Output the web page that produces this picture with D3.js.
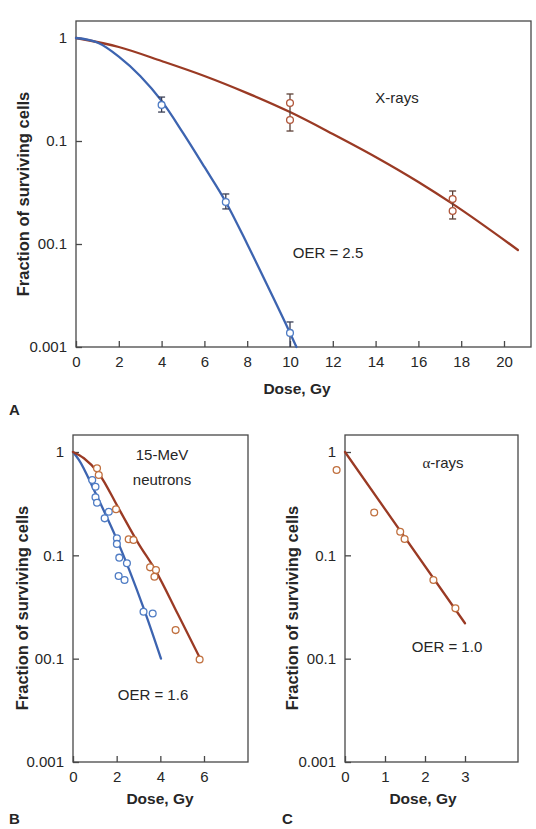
<!DOCTYPE html>
<html>
<head>
<meta charset="utf-8">
<script src="https://cdn.jsdelivr.net/npm/d3@7"></script>
<style>
    body { margin: 0; background: #fff; }
    svg text { font-family: "Liberation Sans", Arial, Helvetica, sans-serif; fill: #262626; }
</style>
</head>
<body>
<div id="chart"></div>
<script>
    // ---- values ----
    const fractionTicks = [1, 0.1, 0.01, 0.001];
    const fractionLabels = ["1", "0.1", "00.1", "0.001"];   // printed this way in the source
    const doseTicksA = [0, 2, 4, 6, 8, 10, 12, 14, 16, 18, 20];
    const doseTicksB = [0, 2, 4, 6];
    const doseTicksC = [0, 1, 2, 3];

    // A: X-rays, aerated (blue) and hypoxic (red) fitted curves [dose, fraction]
    const xrayAeratedCurve = [[0, 1], [1, 0.904], [2, 0.66], [3, 0.428], [4, 0.245], [5, 0.12],
        [6, 0.056], [7, 0.0256], [8, 0.01], [9, 0.00374], [10, 0.00137], [10.3, 0.001]];
    const xrayHypoxicCurve = [[0, 1], [2, 0.818], [4, 0.598], [6, 0.428], [8, 0.292], [10, 0.191],
        [12, 0.117], [14, 0.07], [16, 0.04], [17.6, 0.0245], [20.65, 0.00875]];
    // measured points [dose, fraction]; error bars [dose, low, high]
    const xrayAeratedPoints = [[4, 0.224], [7, 0.0256], [10, 0.00137]];
    const xrayAeratedErrors = [[4, 0.191, 0.267], [7, 0.0219, 0.0306], [10, 0.001, 0.00175]];
    const xrayHypoxicPoints = [[10, 0.234], [10, 0.16], [17.6, 0.0273], [17.6, 0.0209]];
    const xrayHypoxicErrors = [[10, 0.125, 0.286], [17.6, 0.0175, 0.0327]];

    // B: 15-MeV neutrons
    const neutronAeratedCurve = [[0, 1], [0.27, 0.84], [1.03, 0.4], [2.01, 0.142], [3.23, 0.031], [4.03, 0.01]];
    const neutronHypoxicCurve = [[0, 1], [0.5, 0.87], [1.18, 0.62], [2.09, 0.285], [3, 0.13],
        [3.77, 0.072], [4.8, 0.027], [5.85, 0.0098]];
    const neutronAeratedPoints = [[0.88, 0.536], [1.03, 0.461], [1.03, 0.364], [1.1, 0.323], [1.64, 0.264],
        [1.45, 0.228], [2.01, 0.146], [2.01, 0.129], [2.12, 0.095], [2.47, 0.0837], [2.09, 0.063],
        [2.36, 0.0577], [3.23, 0.0284], [3.65, 0.0274]];
    const neutronHypoxicPoints = [[1.1, 0.695], [1.18, 0.599], [1.97, 0.279], [2.55, 0.143], [2.77, 0.141],
        [3.53, 0.0765], [3.8, 0.072], [3.73, 0.062], [4.7, 0.0189], [5.8, 0.0098]];

    // C: alpha-rays
    const alphaCurve = [[0, 1], [3, 0.022]];
    const alphaPoints = [[-0.21, 0.67], [0.73, 0.26], [1.38, 0.169], [1.49, 0.144], [2.21, 0.0577], [2.76, 0.0307]];

    const red = "#9a3a24", blue = "#3d64b0";
    const redDot = "#c0703f", blueDot = "#4f7cc4";

    const svg = d3.select("#chart")
        .append("svg")
        .attr("width", 536)
        .attr("height", 829);

    function drawPanel(p) {
        const x = d3.scaleLinear().domain(p.xDomain).range(p.xRange);
        const y = d3.scaleLog().domain([0.001, 1]).range(p.yRange);
        const g = svg.append("g");

        // frame
        g.append("rect")
            .attr("x", p.xRange[0]).attr("y", p.top)
            .attr("width", p.right - p.xRange[0])
            .attr("height", p.yRange[0] - p.top)
            .attr("fill", "none").attr("stroke", "#484848").attr("stroke-width", 1.3);

        // axes, ticks pointing inward
        const ya = g.append("g")
            .attr("transform", `translate(${p.xRange[0]},0)`)
            .call(d3.axisLeft(y).tickValues(fractionTicks)
                .tickFormat(d => fractionLabels[fractionTicks.indexOf(d)])
                .tickSizeInner(-6).tickSizeOuter(0).tickPadding(9));
        const xa = g.append("g")
            .attr("transform", `translate(0,${p.yRange[0]})`)
            .call(d3.axisBottom(x).tickValues(p.ticks).tickFormat(d3.format("d"))
                .tickSizeInner(-6).tickSizeOuter(0).tickPadding(9));
        [ya, xa].forEach(a => {
            a.select(".domain").remove();
            a.attr("font-size", null).attr("font-family", null).style("color", "#484848");
            a.selectAll("text").attr("font-size", 15);
            a.selectAll("line").attr("stroke-width", 1.3);
        });

        // axis titles
        g.append("text")
            .attr("transform", `translate(${p.yTitle[0]},${p.yTitle[1]}) rotate(-90)`)
            .attr("text-anchor", "middle").attr("dy", "0.35em")
            .attr("font-size", 16.5).attr("font-weight", "bold")
            .text("Fraction of surviving cells");
        g.append("text")
            .attr("x", p.xTitle[0]).attr("y", p.xTitle[1])
            .attr("text-anchor", "middle")
            .attr("font-size", 15.5).attr("font-weight", "bold")
            .text("Dose, Gy");

        const line = d3.line()
            .x(d => x(d[0]))
            .y(d => y(d[1]))
            .curve(d3.curveMonotoneX);

        p.series.forEach(s => {
            g.append("path")
                .datum(s.curve)
                .attr("d", line)
                .attr("fill", "none")
                .attr("stroke", s.color)
                .attr("stroke-width", 2.3)
                .attr("stroke-linecap", "round");

            (s.errors || []).forEach(e => {
                const eg = g.append("g").attr("stroke", s.errColor).attr("stroke-width", 1.3);
                eg.append("line").attr("x1", x(e[0])).attr("x2", x(e[0])).attr("y1", y(e[1])).attr("y2", y(e[2]));
                [e[1], e[2]].forEach(v => {
                    if (v <= 0.001) return;
                    eg.append("line").attr("x1", x(e[0]) - 3.5).attr("x2", x(e[0]) + 3.5)
                        .attr("y1", y(v)).attr("y2", y(v));
                });
            });

            g.selectAll(null)
                .data(s.points)
                .enter()
                .append("circle")
                .attr("cx", d => x(d[0]))
                .attr("cy", d => y(d[1]))
                .attr("r", 3.4)
                .attr("fill", "#fff")
                .attr("stroke", s.dotColor)
                .attr("stroke-width", 1.3);
        });

        p.notes.forEach(n => {
            const t = g.append("text")
                .attr("x", n[0]).attr("y", n[1])
                .attr("text-anchor", "middle")
                .attr("font-size", 15);
            if (n[2].startsWith("α")) {
                t.append("tspan").style("font-family", "'Liberation Serif', 'DejaVu Serif', serif").text("α");
                t.append("tspan").text(n[2].slice(1));
            } else {
                t.text(n[2]);
            }
        });

        svg.append("text")
            .attr("x", p.letter[0]).attr("y", p.letter[1])
            .attr("font-size", 15).attr("font-weight", "bold")
            .text(p.letter[2]);
    }

    drawPanel({
        xDomain: [0, 20], xRange: [76, 504], yRange: [347, 38], top: 21, right: 531,
        ticks: doseTicksA, yTitle: [23, 194], xTitle: [297, 394],
        series: [
            { curve: xrayHypoxicCurve, points: xrayHypoxicPoints, errors: xrayHypoxicErrors,
              color: red, dotColor: "#b0563a", errColor: "#5c4036" },
            { curve: xrayAeratedCurve, points: xrayAeratedPoints, errors: xrayAeratedErrors,
              color: blue, dotColor: blueDot, errColor: "#3a3f55" }
        ],
        notes: [[397, 103, "X-rays"], [328, 258, "OER = 2.5"]],
        letter: [9, 415, "A"]
    });

    drawPanel({
        xDomain: [0, 6], xRange: [73, 204], yRange: [762, 452], top: 435, right: 248,
        ticks: doseTicksB, yTitle: [22, 608], xTitle: [160, 804],
        series: [
            { curve: neutronAeratedCurve, points: neutronAeratedPoints, color: blue, dotColor: blueDot },
            { curve: neutronHypoxicCurve, points: neutronHypoxicPoints, color: red, dotColor: redDot }
        ],
        notes: [[162, 460, "15-MeV"], [162, 485, "neutrons"], [153, 700, "OER = 1.6"]],
        letter: [9, 824, "B"]
    });

    drawPanel({
        xDomain: [0, 3], xRange: [345, 465], yRange: [762, 452], top: 435, right: 518,
        ticks: doseTicksC, yTitle: [292, 608], xTitle: [423, 804],
        series: [
            { curve: alphaCurve, points: alphaPoints, color: red, dotColor: redDot }
        ],
        notes: [[443, 468, "α-rays"], [447, 652, "OER = 1.0"]],
        letter: [282, 824, "C"]
    });
</script>
</body>
</html>
